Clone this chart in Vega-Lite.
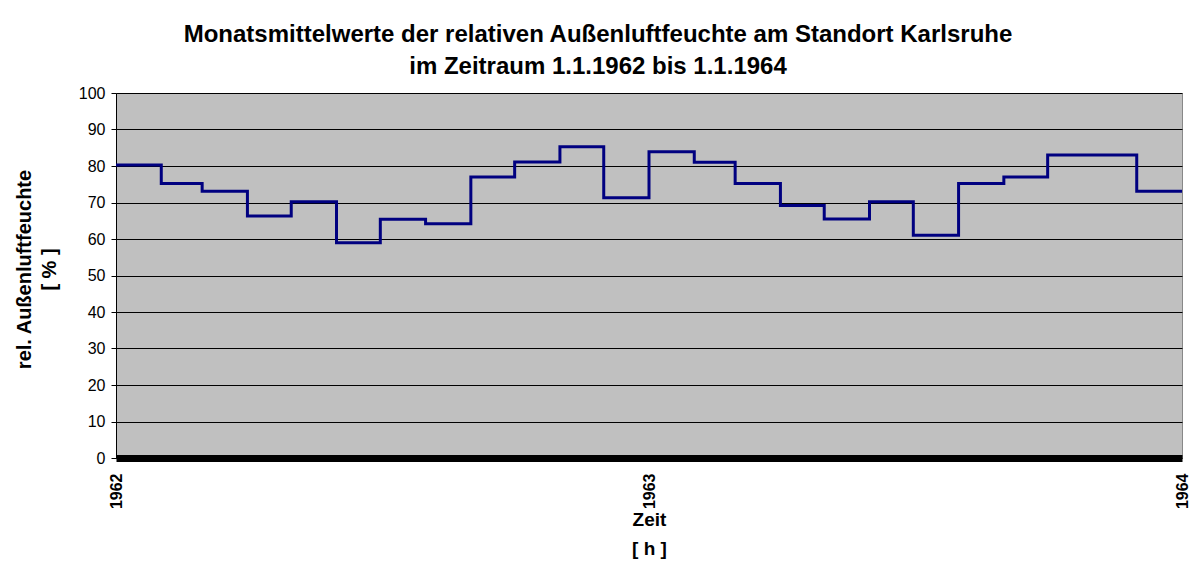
{
  "$schema": "https://vega.github.io/schema/vega-lite/v6.json",
  "autosize": {"type": "none"},
  "width": 1066,
  "height": 365,
  "padding": {"left": 116, "top": 93, "right": 8, "bottom": 106},
  "background": "white",
  "title": {
    "text": ["Monatsmittelwerte der relativen Außenluftfeuchte am Standort Karlsruhe", "im Zeitraum 1.1.1962 bis 1.1.1964"],
    "font": "Liberation Sans",
    "fontSize": 24,
    "fontWeight": "bold",
    "color": "#000000",
    "lineHeight": 32,
    "anchor": "middle",
    "frame": "group",
    "dx": -51,
    "offset": 6
  },
  "data": {
    "values": [
      {"datum": "1962-01-01", "feuchte": 80.3},
      {"datum": "1962-02-01", "feuchte": 75.2},
      {"datum": "1962-03-01", "feuchte": 73.1},
      {"datum": "1962-04-01", "feuchte": 66.3},
      {"datum": "1962-05-01", "feuchte": 70.2},
      {"datum": "1962-06-01", "feuchte": 59.0},
      {"datum": "1962-07-01", "feuchte": 65.4},
      {"datum": "1962-08-01", "feuchte": 64.2},
      {"datum": "1962-09-01", "feuchte": 77.0},
      {"datum": "1962-10-01", "feuchte": 81.1},
      {"datum": "1962-11-01", "feuchte": 85.3},
      {"datum": "1962-12-01", "feuchte": 71.3},
      {"datum": "1963-01-01", "feuchte": 83.9},
      {"datum": "1963-02-01", "feuchte": 81.0},
      {"datum": "1963-03-01", "feuchte": 75.2},
      {"datum": "1963-04-01", "feuchte": 69.2},
      {"datum": "1963-05-01", "feuchte": 65.5},
      {"datum": "1963-06-01", "feuchte": 70.2},
      {"datum": "1963-07-01", "feuchte": 61.0},
      {"datum": "1963-08-01", "feuchte": 75.2},
      {"datum": "1963-09-01", "feuchte": 77.0},
      {"datum": "1963-10-01", "feuchte": 83.0},
      {"datum": "1963-11-01", "feuchte": 83.0},
      {"datum": "1963-12-01", "feuchte": 73.1},
      {"datum": "1964-01-01", "feuchte": 73.1}
    ]
  },
  "mark": {"type": "line", "interpolate": "step-after", "color": "#000080", "strokeWidth": 3, "clip": true},
  "encoding": {
    "x": {
      "field": "datum",
      "type": "temporal",
      "scale": {"type": "utc", "domain": [{"year": 1962, "month": 1, "date": 1, "utc": true}, {"year": 1964, "month": 1, "date": 1, "utc": true}], "nice": false},
      "axis": {
        "title": ["Zeit", "[ h ]"],
        "titleFont": "Liberation Sans",
        "titleFontSize": 19,
        "titleFontWeight": "bold",
        "titleColor": "#000000",
        "titleLineHeight": 29,
        "titleBaseline": "top",
        "titleY": 52,
        "values": [{"year": 1962, "month": 1, "date": 1, "utc": true}, {"year": 1963, "month": 1, "date": 1, "utc": true}, {"year": 1964, "month": 1, "date": 1, "utc": true}],
        "format": "%Y",
        "formatType": "utc",
        "labelAngle": -90,
        "labelFont": "Liberation Sans",
        "labelFontSize": 16,
        "labelFontWeight": "bold",
        "labelColor": "#000000",
        "labelPadding": 15,
        "labelFlush": false,
        "labelOverlap": false,
        "ticks": false,
        "grid": false,
        "domainColor": "#000000",
        "domainWidth": 7
      }
    },
    "y": {
      "field": "feuchte",
      "type": "quantitative",
      "scale": {"domain": [0, 100], "nice": false},
      "axis": {
        "title": ["rel. Außenluftfeuchte", "[ % ]"],
        "titleFont": "Liberation Sans",
        "titleFontSize": 20,
        "titleFontWeight": "bold",
        "titleColor": "#000000",
        "titleLineHeight": 25,
        "titleAngle": -90,
        "titleAlign": "center",
        "titleBaseline": "top",
        "titleX": -102,
        "titleY": 176,
        "values": [0, 10, 20, 30, 40, 50, 60, 70, 80, 90, 100],
        "labelFont": "Liberation Sans",
        "labelFontSize": 16,
        "labelColor": "#000000",
        "labelPadding": 6,
        "tickSize": 5,
        "tickColor": "#000000",
        "grid": true,
        "gridColor": "#000000",
        "gridWidth": 1,
        "gridOpacity": 1,
        "domainColor": "#000000",
        "domainWidth": 1
      }
    }
  },
  "config": {
    "view": {"fill": "#C0C0C0", "stroke": "#888888", "strokeWidth": 1}
  }
}
